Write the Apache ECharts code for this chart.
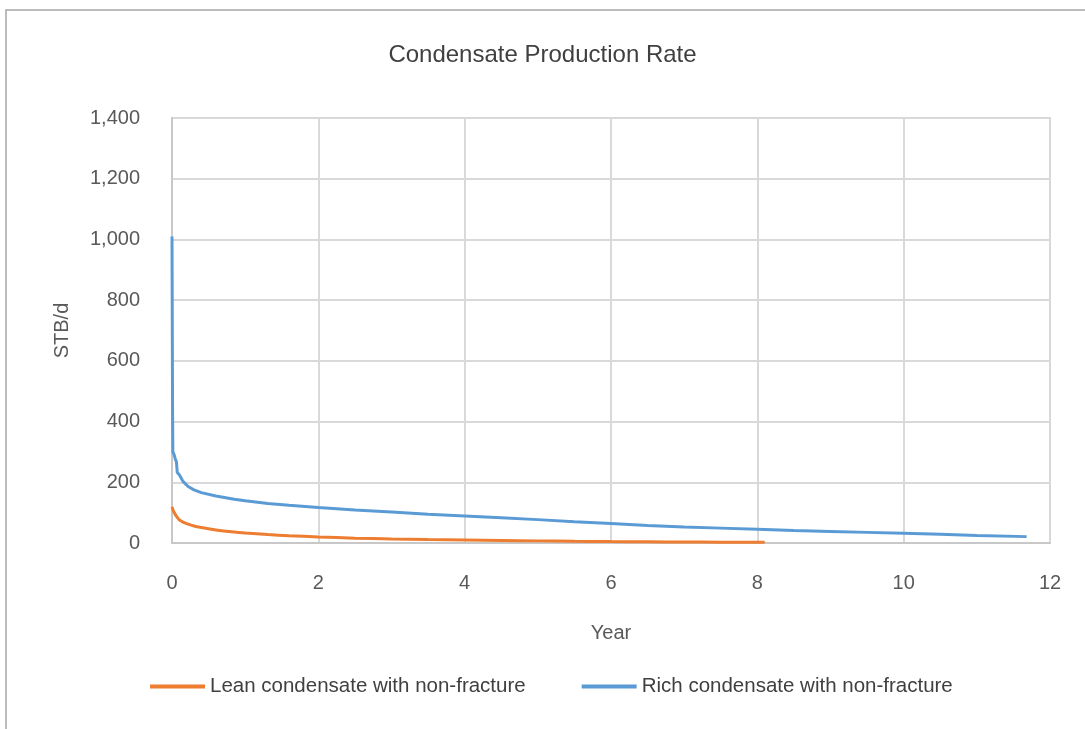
<!DOCTYPE html>
<html>
<head>
<meta charset="utf-8">
<title>Condensate Production Rate</title>
<script src="https://cdn.jsdelivr.net/npm/echarts@6/dist/echarts.min.js"></script>
<style>
  html, body { margin: 0; padding: 0; background: #ffffff; }
  #chart { width: 1085px; height: 729px; }
</style>
</head>
<body>
<div id="chart"></div>
<script>
// Lean condensate, non-fractured well: time (years) and rate (STB/d)
const leanYears = [0, 0.02, 0.04, 0.07, 0.1, 0.15, 0.22, 0.3, 0.4, 0.6, 0.85, 1.0, 1.31, 1.6, 2.0, 2.5, 3.0, 3.5, 4.0, 4.5, 5.0, 5.5, 6.0, 6.5, 7.0, 7.5, 8.1];
const leanRate  = [119, 105, 96, 85, 76, 69, 62, 56, 51, 43, 36, 33, 28, 24, 20, 16, 13.5, 11.5, 10, 8.5, 7, 5.8, 4.8, 4, 3.3, 2.7, 2.2];

// Rich condensate, non-fractured well: time (years) and rate (STB/d)
const richYears = [0, 0.004, 0.008, 0.012, 0.02, 0.03, 0.045, 0.06, 0.07, 0.072, 0.1, 0.15, 0.22, 0.3, 0.4, 0.6, 0.85, 1.0, 1.31, 1.6, 2.0, 2.5, 3.0, 3.5, 4.0, 4.5, 5.0, 5.5, 6.0, 6.5, 7.0, 7.5, 8.0, 8.5, 9.0, 9.5, 10.0, 10.5, 11.0, 11.68];
const richRate  = [1010, 1010, 420, 300, 298, 290, 276, 268, 262, 232, 225, 203, 186, 175, 166, 155, 144, 139, 130, 124, 117, 109, 102, 95, 89, 83, 77, 70, 64, 58, 53, 49, 45, 41, 38, 35, 32, 29, 25, 21];

// Axis ticks
const xTicks = [0, 2, 4, 6, 8, 10, 12];
const yTicks = [0, 200, 400, 600, 800, 1000, 1200, 1400];

const seriesNames = ['Lean condensate with non-fracture', 'Rich condensate with non-fracture'];
const seriesColors = ['#ED7D31', '#5B9BD5'];

const pairs = (xs, ys) => xs.map((x, i) => [x, ys[i]]);

const chart = echarts.init(document.getElementById('chart'), null, { renderer: 'canvas' });

const font = 'Liberation Sans, Arial, sans-serif';

chart.setOption({
  backgroundColor: '#ffffff',
  animation: false,
  textStyle: { fontFamily: font },
  graphic: [{
    type: 'polyline',
    shape: { points: [[6, 740], [6, 10], [1100, 10]] },
    style: { stroke: '#a6a6a6', lineWidth: 1.5, fill: null },
    silent: true
  }],
  title: {
    text: 'Condensate Production Rate',
    left: 'center',
    top: 38,
    textStyle: { fontFamily: font, fontSize: 24, fontWeight: 'normal', color: '#404040' }
  },
  legend: {
    left: 150,
    top: 676,
    padding: 0,
    itemWidth: 55,
    itemHeight: 4,
    itemGap: 56,
    icon: 'rect',
    textStyle: { fontFamily: font, fontSize: 20.5, color: '#404040' },
    data: seriesNames
  },
  grid: {
    left: 172,
    right: 35,
    top: 118,
    bottom: 186,
    show: true,
    borderColor: '#d0d0d0',
    borderWidth: 2
  },
  xAxis: {
    type: 'value',
    min: xTicks[0],
    max: xTicks[xTicks.length - 1],
    interval: 2,
    name: 'Year',
    nameLocation: 'middle',
    nameGap: 80,
    nameTextStyle: { fontFamily: font, fontSize: 20, color: '#595959' },
    axisLine: { show: true, lineStyle: { color: '#c8c8c8', width: 2 } },
    axisTick: { show: false },
    axisLabel: { margin: 30, fontFamily: font, fontSize: 20, color: '#595959' },
    splitLine: { show: true, lineStyle: { color: '#d9d9d9', width: 2 } }
  },
  yAxis: {
    type: 'value',
    min: yTicks[0],
    max: yTicks[yTicks.length - 1],
    interval: 200,
    name: 'STB/d',
    nameLocation: 'middle',
    nameGap: 100,
    nameRotate: 90,
    nameTextStyle: { fontFamily: font, fontSize: 20, color: '#595959' },
    axisLine: { show: true, lineStyle: { color: '#c8c8c8', width: 2 } },
    axisTick: { show: false },
    axisLabel: {
      margin: 32,
      fontFamily: font,
      fontSize: 20,
      color: '#595959',
      formatter: v => v.toLocaleString('en-US')
    },
    splitLine: { show: true, lineStyle: { color: '#d9d9d9', width: 2 } }
  },
  series: [
    {
      name: seriesNames[0],
      type: 'line',
      data: pairs(leanYears, leanRate),
      showSymbol: false,
      symbol: 'none',
      smooth: 0.2,
      lineStyle: { color: seriesColors[0], width: 3 },
      itemStyle: { color: seriesColors[0] }
    },
    {
      name: seriesNames[1],
      type: 'line',
      data: pairs(richYears, richRate),
      showSymbol: false,
      symbol: 'none',
      smooth: false,
      lineStyle: { color: seriesColors[1], width: 3 },
      itemStyle: { color: seriesColors[1] }
    }
  ]
});
</script>
</body>
</html>
